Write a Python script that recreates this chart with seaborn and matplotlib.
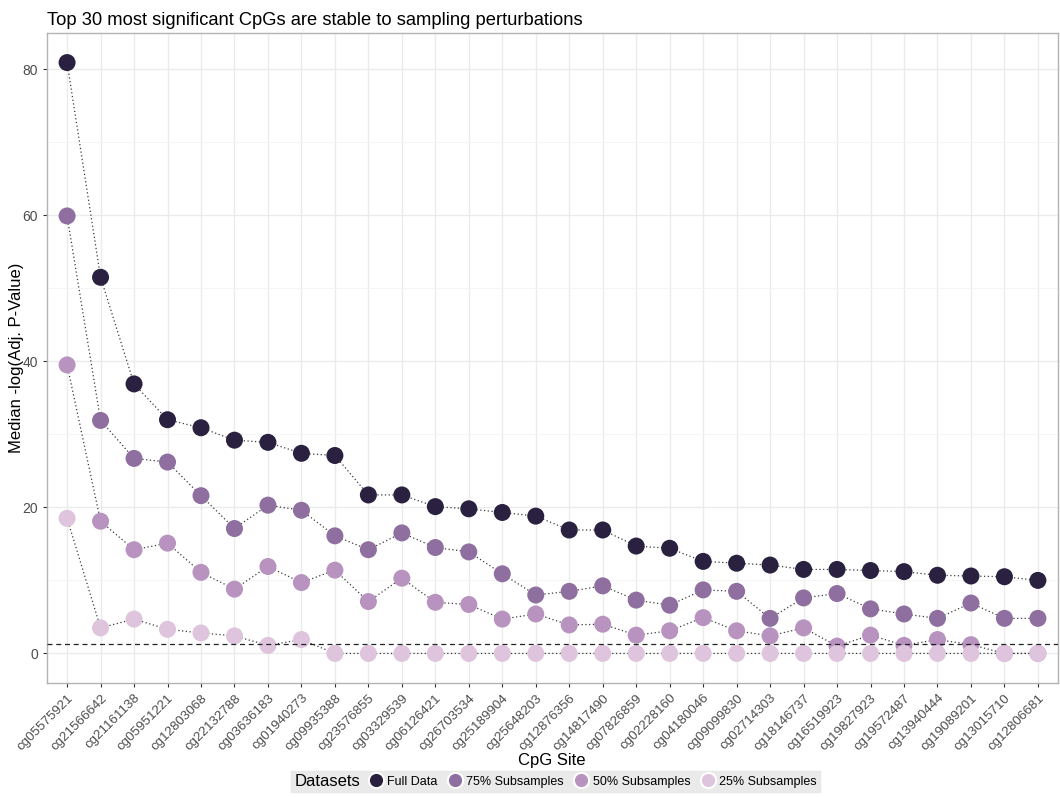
import numpy as np
import pandas as pd
import matplotlib
matplotlib.use('Agg')
import matplotlib.pyplot as plt
import seaborn as sns
from matplotlib.offsetbox import HPacker

sites = ['cg05575921', 'cg21566642', 'cg21161138', 'cg05951221', 'cg12803068',
         'cg22132788', 'cg03636183', 'cg01940273', 'cg09935388', 'cg23576855',
         'cg03329539', 'cg06126421', 'cg26703534', 'cg25189904', 'cg25648203',
         'cg12876356', 'cg14817490', 'cg07826859', 'cg02228160', 'cg04180046',
         'cg09099830', 'cg02714303', 'cg18146737', 'cg16519923', 'cg19827923',
         'cg19572487', 'cg13940444', 'cg19089201', 'cg13015710', 'cg12806681']

full_data = [80.9, 51.5, 36.9, 32.0, 30.9, 29.2, 28.9, 27.4, 27.1, 21.7,
             21.7, 20.1, 19.8, 19.3, 18.8, 16.9, 16.9, 14.7, 14.4, 12.6,
             12.35, 12.1, 11.5, 11.5, 11.35, 11.2, 10.7, 10.6, 10.5, 10.0]
sub75 = [59.9, 31.9, 26.7, 26.2, 21.6, 17.1, 20.3, 19.6, 16.1, 14.2,
         16.5, 14.5, 13.9, 10.9, 8.0, 8.5, 9.25, 7.3, 6.6, 8.7,
         8.5, 4.8, 7.6, 8.2, 6.1, 5.4, 4.8, 6.9, 4.8, 4.8]
sub50 = [39.5, 18.1, 14.2, 15.1, 11.1, 8.8, 11.9, 9.7, 11.4, 7.1,
         10.3, 7.0, 6.7, 4.7, 5.4, 3.9, 4.0, 2.5, 3.1, 4.9,
         3.1, 2.4, 3.5, 1.0, 2.5, 1.1, 1.9, 1.2, 0.0, 0.0]
sub25 = [18.5, 3.5, 4.7, 3.3, 2.8, 2.4, 1.1, 1.9, 0, 0,
         0, 0, 0, 0, 0, 0, 0, 0, 0, 0,
         0, 0, 0, 0, 0, 0, 0, 0, 0, 0]

datasets = ['Full Data', '75% Subsamples', '50% Subsamples', '25% Subsamples']
colors = ['#2a2140', '#8f6fa0', '#b893bf', '#dec4dc']
cutoff = -np.log10(0.05)

df = pd.DataFrame({
    'site': sites * 4,
    'pos': list(range(len(sites))) * 4,
    'value': full_data + sub75 + sub50 + sub25,
    'Datasets': np.repeat(datasets, len(sites)),
})

plt.rcParams['font.family'] = ['Liberation Sans', 'DejaVu Sans']
fig = plt.figure(figsize=(10.6, 7.97), dpi=100)
ax = fig.add_axes([47 / 1060, 1 - 683 / 797, 1011 / 1060, 650 / 797])

# dotted connecting lines, one per dataset
for name in datasets:
    sub = df[df['Datasets'] == name]
    sns.lineplot(data=sub, x='pos', y='value', color='#3a3a3a', lw=0.9,
                 linestyle=(0, (1, 2)), ax=ax, legend=False, zorder=2)

sns.scatterplot(data=df, x='pos', y='value', hue='Datasets',
                hue_order=datasets, palette=colors, s=150, linewidth=0,
                ax=ax, zorder=3)

ax.axhline(cutoff, color='#222222', lw=0.9, linestyle=(0, (4, 3)), zorder=4)

ax.set_xlim(-0.6, len(sites) - 0.4)
ax.set_ylim(-4.05, 84.95)
ax.set_xticks(range(len(sites)))
ax.set_xticklabels(sites, rotation=45, ha='right', rotation_mode='anchor',
                   fontsize=9.6, color='#4d4d4d')
ax.set_yticks([0, 20, 40, 60, 80])
ax.set_yticks([10, 30, 50, 70], minor=True)
ax.tick_params(axis='y', labelsize=10, labelcolor='#4d4d4d', color='#333333', length=3)
ax.tick_params(axis='x', color='#333333', length=3)
ax.tick_params(which='minor', length=0)
ax.grid(True, which='major', color='#ebebeb', lw=1.0)
ax.grid(True, which='minor', axis='y', color='#f4f4f4', lw=0.6)
ax.set_axisbelow(True)
for sp in ax.spines.values():
    sp.set_color('#b3b3b3')
    sp.set_linewidth(1.0)

ax.set_xlabel('')
fig.text(552 / 1060, 1 - 760 / 797, 'CpG Site', fontsize=12, ha='center', va='center')
fig.text(17 / 1060, 1 - 358 / 797, 'Median -log(Adj. P-Value)', fontsize=12,
         rotation=90, ha='center', va='center')
ax.set_ylabel('')
ax.set_title('Top 30 most significant CpGs are stable to sampling perturbations',
             loc='left', fontsize=13.2, pad=6)

ax.legend_.remove()
handles = [plt.Line2D([], [], marker='o', ls='', markersize=11, markerfacecolor=c,
                      markeredgecolor='white', markeredgewidth=1.5) for c in colors]
leg = fig.legend(handles, datasets, title='Datasets', loc='lower center',
                 bbox_to_anchor=(0.524, -0.002), ncol=5, frameon=True,
                 fontsize=9, title_fontsize=12, handletextpad=0.3, columnspacing=0.8,
                 borderpad=0.25, handlelength=1.2)
leg.get_frame().set_facecolor('#e5e5e5')
leg.get_frame().set_edgecolor('#e5e5e5')
leg.get_frame().set_boxstyle('square', pad=0)
# title on the same row as the entries
box = leg._legend_box
box._children = [HPacker(children=[box._children[0], box._children[1]],
                         align='center', pad=0, sep=6)]

fig.savefig('out.png', dpi=100)
